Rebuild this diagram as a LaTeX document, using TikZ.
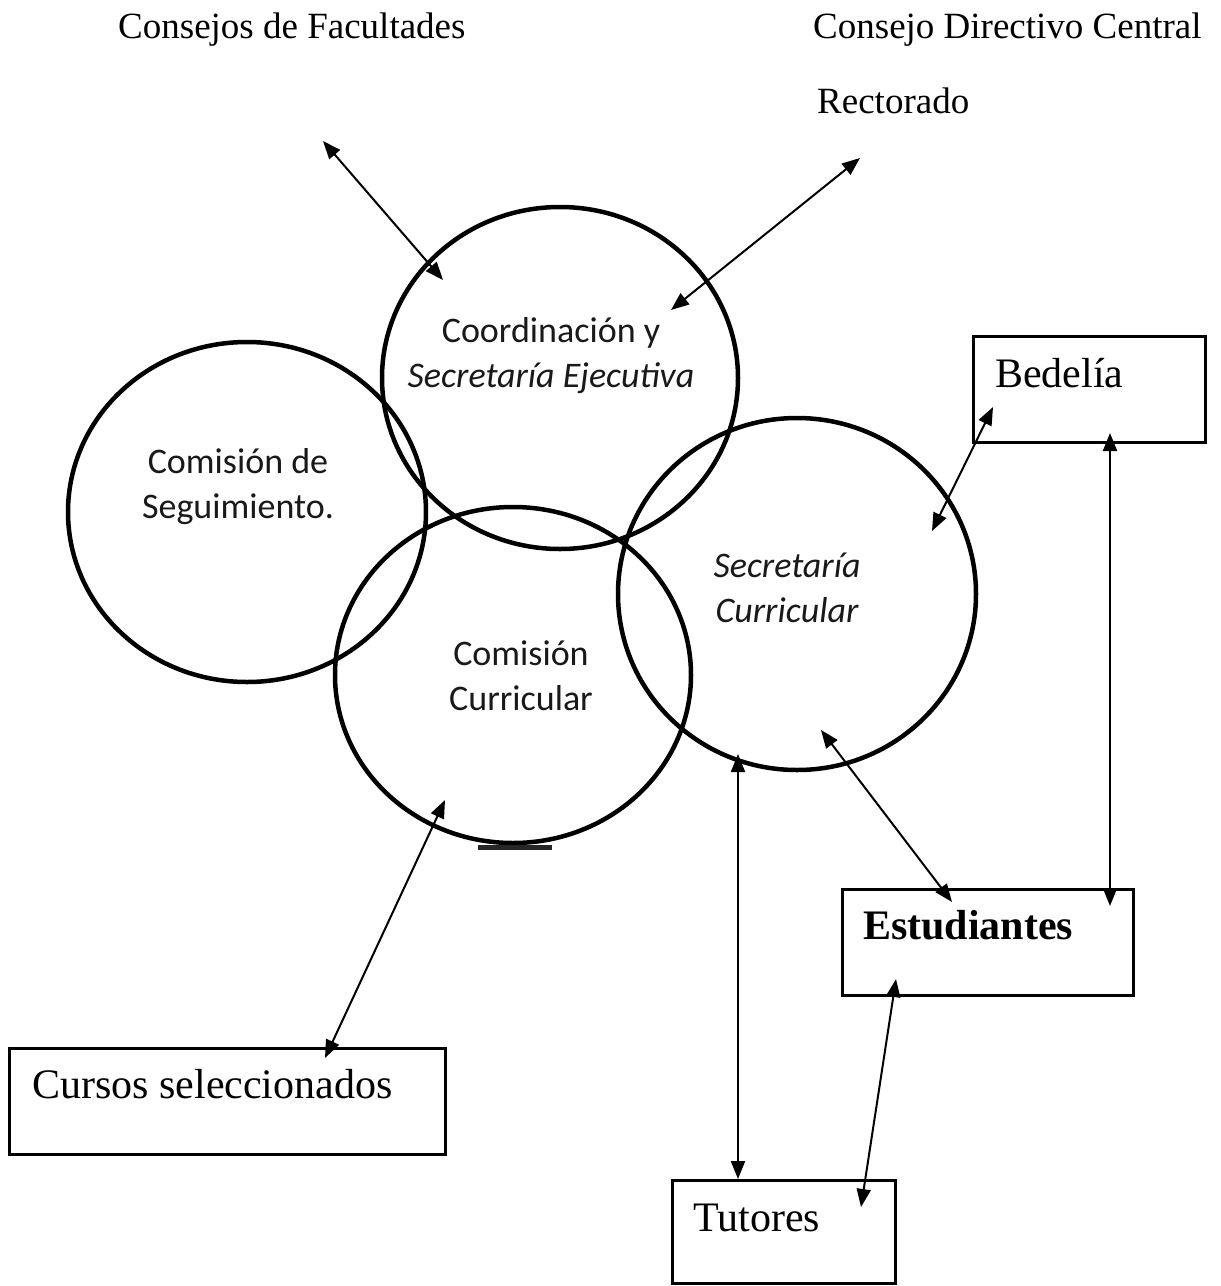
\documentclass[tikz,border=0pt]{standalone}
\usepackage{fontspec}
\setmainfont{Liberation Serif}
\newfontfamily\calfont{Carlito}
\usetikzlibrary{arrows.meta,shapes.geometric}
\begin{document}
\begin{tikzpicture}[x=1pt,y=-1pt,
 circ/.style={ellipse,draw,line width=4.5pt,inner sep=0pt,outer sep=0pt},
 box/.style={draw,line width=3pt,inner sep=0pt,outer sep=0pt},
 conn/.style={{Triangle[length=18pt,width=14pt]}-{Triangle[length=18pt,width=14pt]},line width=2pt},
 toplab/.style={font=\fontsize{37}{44}\selectfont,anchor=base west,inner sep=0pt},
 boxlab/.style={font=\fontsize{42}{50}\selectfont,anchor=base west,inner sep=0pt},
 clab/.style={font=\calfont\fontsize{36}{44}\selectfont,anchor=base,inner sep=0pt,text=black!90}]
\useasboundingbox (0,0) rectangle (1221,1286);

% circles
\node[circ,minimum width=356pt,minimum height=342pt] (coord) at (560,378) {};
\node[circ,minimum width=358pt,minimum height=340pt] (seg) at (247,512) {};
\node[circ,minimum width=356pt,minimum height=336pt] (cc) at (513,675) {};
\node[circ,minimum width=358pt,minimum height=352pt] (sc) at (797,594) {};
\fill[black!85] (478,845) rectangle (552,850);

% circle labels
\node[clab] (coord1) at (551,342) {Coordinación y};
\node[clab] (coord2) at (551,387) {\itshape Secretaría Ejecutiva};
\node[clab] (seg1) at (238,473) {Comisión de};
\node[clab] (seg2) at (238,518) {Seguimiento.};
\node[clab] (sc1) at (787,577) {\itshape Secretaría};
\node[clab] (sc2) at (787,622) {\itshape Curricular};
\node[clab] (cc1) at (521,665) {Comisión};
\node[clab] (cc2) at (521,710) {Curricular};

% boxes
\node[box,minimum width=232pt,minimum height=106pt] (bed) at (1089,389) {};
\node[box,minimum width=291pt,minimum height=106pt] (est) at (987.5,942) {};
\node[box,minimum width=436pt,minimum height=106pt] (cur) at (227,1101) {};
\node[box,minimum width=223pt,minimum height=103pt] (tut) at (783.5,1231.5) {};

% texts
\node[toplab] (cf) at (118,38) {Consejos de Facultades};
\node[toplab] (cdc) at (813,38) {Consejo Directivo Central};
\node[toplab] (rec) at (817,113) {Rectorado};
\node[boxlab] (bedt) at (995,387) {Bedelía};
\node[boxlab,font=\fontsize{42}{50}\selectfont\bfseries] (estt) at (863,939) {Estudiantes};
\node[boxlab] (curt) at (32,1098) {Cursos seleccionados};
\node[boxlab] (tutt) at (693,1231) {Tutores};

% arrow end points
\coordinate (a1s) at (323,141); \coordinate (a1e) at (443,280);
\coordinate (a2s) at (860,158); \coordinate (a2e) at (671,310);
\coordinate (a3s) at (993,407); \coordinate (a3e) at (932,531);
\coordinate (a4s) at (1110,433); \coordinate (a4e) at (1110,906);
\coordinate (a5s) at (821,730); \coordinate (a5e) at (952,902);
\coordinate (a6s) at (738,754); \coordinate (a6e) at (738,1179);
\coordinate (a7s) at (896,979); \coordinate (a7e) at (861,1207);
\coordinate (a8s) at (445,800); \coordinate (a8e) at (325,1058);

\draw[conn] (a1s) -- (a1e);
\draw[conn] (a2s) -- (a2e);
\draw[conn] (a3s) -- (a3e);
\draw[conn] (a4s) -- (a4e);
\draw[conn] (a5s) -- (a5e);
\draw[conn] (a6s) -- (a6e);
\draw[conn] (a7s) -- (a7e);
\draw[conn] (a8s) -- (a8e);
\end{tikzpicture}
\end{document}
